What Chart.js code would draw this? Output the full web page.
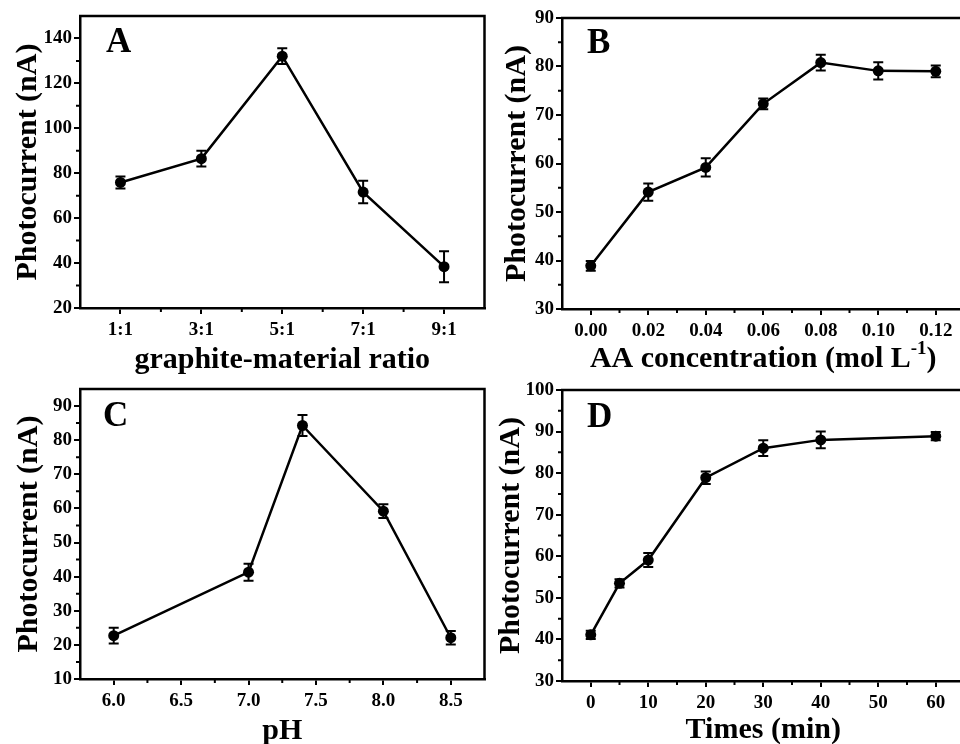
<!DOCTYPE html>
<html><head><meta charset="utf-8">
<script src="https://cdn.jsdelivr.net/npm/chart.js@4"></script>
<style>
html,body{margin:0;padding:0;background:#fff;overflow:hidden;width:960px;height:744px;}
canvas{position:absolute;}
</style></head><body>
<canvas id="cA" width="490" height="400" style="left:0px;top:0px"></canvas>
<canvas id="cB" width="490" height="400" style="left:480px;top:0px"></canvas>
<canvas id="cC" width="490" height="372" style="left:0px;top:372px"></canvas>
<canvas id="cD" width="490" height="372" style="left:480px;top:372px"></canvas>
<script>
// ---- data ----
const ratioLabels = ["1:1","3:1","5:1","7:1","9:1"];
const photoA = [75.9, 86.5, 132.1, 71.6, 38.4];
const errA   = [2.7, 3.5, 3.5, 5.0, 6.9];

const aaConc = [0.00, 0.02, 0.04, 0.06, 0.08, 0.10, 0.12];
const photoB = [38.9, 54.1, 59.2, 72.3, 80.8, 79.1, 79.0];
const errB   = [1.0, 1.8, 1.9, 1.1, 1.6, 1.8, 1.2];

const pHValues = [6.0, 7.0, 7.4, 8.0, 8.5];
const photoC   = [22.7, 41.3, 84.3, 59.2, 22.1];
const errC     = [2.3, 2.5, 3.1, 2.0, 2.0];

const times  = [0, 5, 10, 20, 30, 40, 60];
const photoD = [41.1, 53.5, 59.1, 78.9, 86.0, 88.0, 88.9];
const errD   = [1.0, 1.0, 1.7, 1.5, 1.9, 2.0, 1.0];

// ---- ticks ----
const yTicksA = [20, 40, 60, 80, 100, 120, 140];
const yMinorA = [30, 50, 70, 90, 110, 130];
const yTicksB = [30, 40, 50, 60, 70, 80, 90];
const yMinorB = [35, 45, 55, 65, 75, 85];
const xTicksB = [0.00, 0.02, 0.04, 0.06, 0.08, 0.10, 0.12];
const xMinorB = [0.01, 0.03, 0.05, 0.07, 0.09, 0.11];
const yTicksC = [10, 20, 30, 40, 50, 60, 70, 80, 90];
const yMinorC = [15, 25, 35, 45, 55, 65, 75, 85];
const xTicksC = [6.0, 6.5, 7.0, 7.5, 8.0, 8.5];
const xMinorC = [6.25, 6.75, 7.25, 7.75, 8.25];
const yTicksD = [30, 40, 50, 60, 70, 80, 90, 100];
const yMinorD = [35, 45, 55, 65, 75, 85, 95];
const xTicksD = [0, 10, 20, 30, 40, 50, 60];
const xMinorD = [5, 15, 25, 35, 45, 55];

const FAM = "'Liberation Serif','Times New Roman',serif";
Chart.defaults.font = {family: FAM, size: 19, weight: 'bold'};
Chart.defaults.color = '#000';

function panelPlugin(o){
  return {
    id: 'panel' + o.letter,
    beforeDatasetsDraw(chart){
      const ctx = chart.ctx, ys = chart.scales.y, meta = chart.getDatasetMeta(0);
      ctx.save(); ctx.strokeStyle = '#000'; ctx.lineWidth = 2;
      meta.data.forEach((pt, i) => {
        const val = o.vals[i], e = o.err[i];
        const y1 = ys.getPixelForValue(val + e), y2 = ys.getPixelForValue(val - e);
        ctx.beginPath();
        ctx.moveTo(pt.x, y1); ctx.lineTo(pt.x, y2);
        ctx.moveTo(pt.x - 5, y1); ctx.lineTo(pt.x + 5, y1);
        ctx.moveTo(pt.x - 5, y2); ctx.lineTo(pt.x + 5, y2);
        ctx.stroke();
      });
      ctx.restore();
    },
    afterDraw(chart){
      const ctx = chart.ctx, a = chart.chartArea, xs = chart.scales.x, ys = chart.scales.y;
      ctx.save();
      ctx.strokeStyle = '#000'; ctx.lineWidth = 2.5;
      ctx.beginPath();
      ctx.moveTo(a.left - 1, a.top); ctx.lineTo(a.right, a.top); ctx.lineTo(a.right, a.bottom + 1);
      ctx.stroke();
      ctx.lineWidth = 2;
      ctx.beginPath();
      const xm = o.xMinor ? o.xMinor : [];
      xm.forEach(v => { const x = xs.getPixelForValue(v); ctx.moveTo(x, a.bottom); ctx.lineTo(x, a.bottom + 4); });
      o.yMinor.forEach(v => { const y = ys.getPixelForValue(v); ctx.moveTo(a.left, y); ctx.lineTo(a.left - 4, y); });
      ctx.stroke();
      ctx.fillStyle = '#000';
      // panel letter
      ctx.textAlign = 'left'; ctx.textBaseline = 'alphabetic';
      ctx.font = "bold 35px " + FAM;
      ctx.fillText(o.letter, o.lx, o.ly);
      // x title
      ctx.font = "bold 30px " + FAM;
      const cx = (a.left + a.right) / 2;
      if (o.sup) {
        const mainW = ctx.measureText(o.xTitle).width;
        ctx.font = "bold 19px " + FAM;
        const supW = ctx.measureText(o.sup).width;
        ctx.font = "bold 30px " + FAM;
        const endW = ctx.measureText(o.xTitleEnd).width;
        let x0 = cx - (mainW + supW + endW) / 2;
        ctx.fillText(o.xTitle, x0, o.xtY);
        ctx.font = "bold 19px " + FAM;
        ctx.fillText(o.sup, x0 + mainW, o.xtY - 13);
        ctx.font = "bold 30px " + FAM;
        ctx.fillText(o.xTitleEnd, x0 + mainW + supW, o.xtY);
      } else {
        ctx.textAlign = 'center';
        ctx.fillText(o.xTitle, cx, o.xtY);
      }
      // y title
      ctx.translate(o.ytX, (a.top + a.bottom) / 2);
      ctx.rotate(-Math.PI / 2);
      ctx.textAlign = 'center'; ctx.textBaseline = 'middle';
      ctx.fillText('Photocurrent (nA)', 0, 0);
      ctx.restore();
    }
  };
}

function build(id, o){
  const gridOpt = {display: true, drawOnChartArea: false, drawTicks: true, tickLength: 6, color: '#000', lineWidth: 2};
  const borderOpt = {display: true, color: '#000', width: 2.5};
  const tickFont = {family: FAM, size: 19, weight: 'bold'};
  const xScale = o.category ? {
      type: 'category', offset: true,
      grid: Object.assign({}, gridOpt, {offset: false}), border: borderOpt,
      ticks: {color: '#000', font: tickFont, padding: 5, maxRotation: 0, autoSkip: false},
      afterFit: s => { s.height = o.xh; }
    } : {
      type: 'linear', min: o.xmin, max: o.xmax,
      grid: gridOpt, border: borderOpt,
      afterBuildTicks: s => { s.ticks = o.xTicks.map(v => ({value: v})); },
      ticks: {color: '#000', font: tickFont, padding: 5, maxRotation: 0, autoSkip: false,
              callback: v => o.xFmt(v)},
      afterFit: s => { s.height = o.xh; }
    };
  const data = o.category ? o.vals : o.xs.map((x, i) => ({x: x, y: o.vals[i]}));
  new Chart(document.getElementById(id), {
    type: 'line',
    data: {
      labels: o.category ? o.labels : undefined,
      datasets: [{data: data, borderColor: '#000', backgroundColor: '#000', borderWidth: 2.5,
        pointRadius: 5.5, pointHoverRadius: 5.5, pointBackgroundColor: '#000', pointBorderWidth: 0,
        tension: 0, fill: false}]
    },
    options: {
      responsive: false, animation: false, devicePixelRatio: 1,
      layout: {padding: {left: 0, top: o.top, right: o.right, bottom: 0}},
      plugins: {legend: {display: false}, tooltip: {enabled: false}},
      scales: {
        x: xScale,
        y: {
          type: 'linear', min: o.ymin, max: o.ymax,
          grid: gridOpt, border: borderOpt,
          afterBuildTicks: s => { s.ticks = o.yTicks.map(v => ({value: v})); },
          ticks: {color: '#000', font: tickFont, padding: 2, callback: v => String(v)},
          afterFit: s => { s.width = o.yw; }
        }
      }
    },
    plugins: [panelPlugin(o)]
  });
}

build('cA', {
  letter: 'A', category: true, labels: ratioLabels, vals: photoA, err: errA,
  ymin: 20, ymax: 150, yTicks: yTicksA, yMinor: yMinorA,
  xMinor: [0.5, 1.5, 2.5, 3.5],
  top: 16, right: 3, yw: 80, xh: 92,
  lx: 106, ly: 52, xTitle: 'graphite-material ratio', xtY: 368, ytX: 28
});
build('cB', {
  letter: 'B', xs: aaConc, vals: photoB, err: errB,
  xmin: -0.01, xmax: 0.13, xTicks: xTicksB, xMinor: xMinorB, xFmt: v => v.toFixed(2),
  ymin: 30, ymax: 90, yTicks: yTicksB, yMinor: yMinorB,
  top: 18, right: 1, yw: 82, xh: 91,
  lx: 107, ly: 53, xTitle: 'AA concentration (mol L', sup: '-1', xTitleEnd: ')', xtY: 367, ytX: 37
});
build('cC', {
  letter: 'C', xs: pHValues, vals: photoC, err: errC,
  xmin: 5.75, xmax: 8.75, xTicks: xTicksC, xMinor: xMinorC, xFmt: v => v.toFixed(1),
  ymin: 10, ymax: 95, yTicks: yTicksC, yMinor: yMinorC,
  top: 17, right: 3, yw: 80, xh: 65,
  lx: 103, ly: 54, xTitle: 'pH', xtY: 367, ytX: 29
});
build('cD', {
  letter: 'D', xs: times, vals: photoD, err: errD,
  xmin: -5, xmax: 65, xTicks: xTicksD, xMinor: xMinorD, xFmt: v => String(v),
  ymin: 30, ymax: 100, yTicks: yTicksD, yMinor: yMinorD,
  top: 18, right: 1, yw: 82, xh: 63,
  lx: 107, ly: 55, xTitle: 'Times (min)', xtY: 366, ytX: 31
});
</script>
</body></html>
